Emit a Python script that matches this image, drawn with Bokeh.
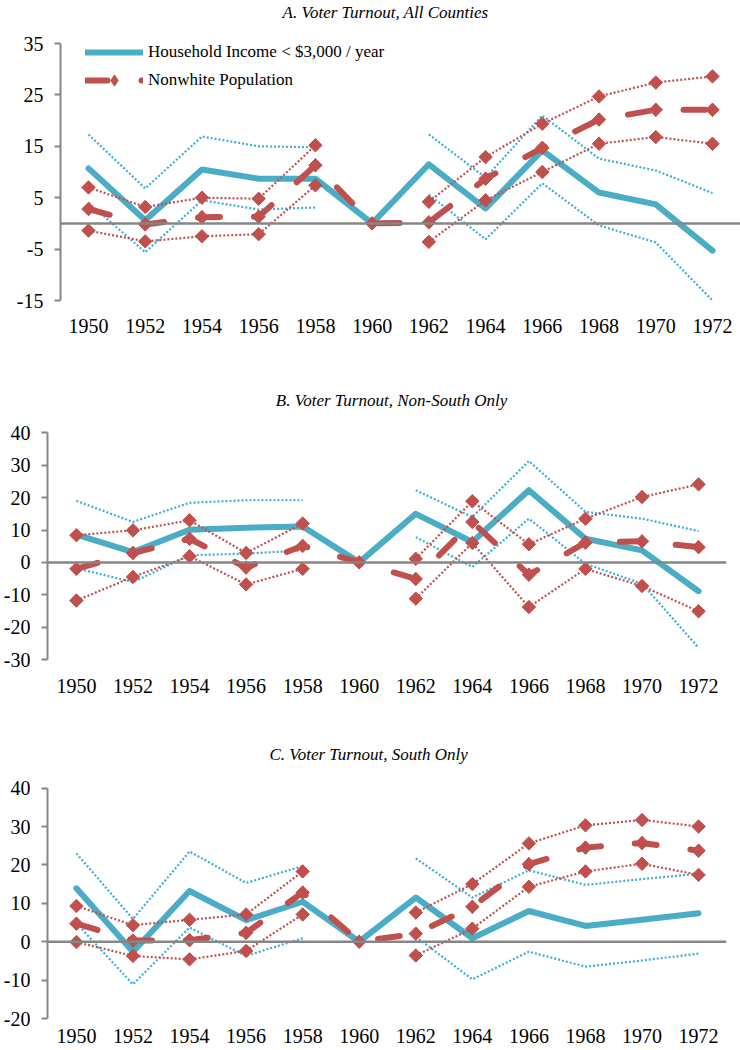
import numpy as np
from bokeh.plotting import figure
from bokeh.models import Range1d, FixedTicker, Span, Label, Legend, LegendItem, PrintfTickFormatter
from bokeh.embed import file_html
from bokeh.resources import INLINE

nan = float("nan")
years = [1950, 1952, 1954, 1956, 1958, 1960, 1962, 1964, 1966, 1968, 1970, 1972]

# ---- Panel A: all counties ----
a_inc    = [10.7, 0.6, 10.5, 8.7, 8.7, 0.0, 11.5, 2.9, 14.2, 6.0, 3.7, -5.3]
a_inc_hi = [17.3, 6.8, 16.9, 15.0, 14.8, nan, 17.3, 8.9, 21.0, 12.6, 10.3, 5.9]
a_inc_lo = [4.0, -5.6, 4.5, 2.7, 3.1, nan, 5.6, -3.1, 7.8, -0.4, -3.7, -15.0]
a_nw     = [2.8, -0.2, 1.2, 1.3, 11.3, 0.0, 0.2, 8.7, 14.7, 20.2, 22.1, 22.1]
a_nw_hi  = [7.0, 3.2, 5.0, 4.8, 15.2, nan, 4.2, 12.9, 19.4, 24.7, 27.4, 28.6]
a_nw_lo  = [-1.4, -3.5, -2.5, -2.1, 7.4, nan, -3.6, 4.5, 10.0, 15.5, 16.8, 15.5]
a_ticks  = [-15, -5, 5, 15, 25, 35]

# ---- Panel B: non-South ----
b_inc    = [8.6, 3.2, 10.1, 10.7, 11.1, 0.0, 15.0, 6.3, 22.3, 7.3, 3.7, -8.9]
b_inc_hi = [19.0, 12.5, 18.4, 19.2, 19.2, nan, 22.3, 14.0, 31.3, 15.6, 13.5, 9.7]
b_inc_lo = [-1.8, -6.1, 2.2, 2.7, 3.7, nan, 7.8, -1.4, 13.5, -0.4, -6.6, -26.4]
b_nw     = [-2.0, 2.9, 7.3, -1.6, 5.1, 0.0, -5.1, 12.5, -3.8, 6.1, 6.5, 4.7]
b_nw_hi  = [8.4, 9.9, 13.0, 2.9, 12.0, nan, 1.1, 18.9, 5.6, 13.5, 20.2, 24.1]
b_nw_lo  = [-11.8, -4.5, 1.9, -6.8, -2.0, nan, -11.2, 6.0, -13.8, -2.0, -7.3, -15.1]
b_ticks  = [-30, -20, -10, 0, 10, 20, 30, 40]

# ---- Panel C: South ----
c_inc    = [13.9, -2.6, 13.2, 5.6, 10.4, 0.0, 11.5, 0.9, 8.0, 4.1, 5.7, 7.4]
c_inc_hi = [23.0, 5.9, 23.5, 15.3, 19.7, nan, 21.7, 11.5, 18.6, 14.8, 16.3, 17.7]
c_inc_lo = [4.8, -11.1, 3.7, -3.7, 0.9, nan, 1.3, -9.8, -2.6, -6.5, -4.9, -3.1]
c_nw     = [4.7, 0.3, 0.4, 2.3, 12.8, 0.0, 2.1, 9.1, 20.2, 24.5, 25.7, 23.7]
c_nw_hi  = [9.3, 4.3, 5.7, 7.1, 18.3, nan, 7.6, 15.0, 25.6, 30.3, 31.7, 30.0]
c_nw_lo  = [-0.1, -3.7, -4.6, -2.4, 7.1, nan, -3.6, 3.4, 14.3, 18.3, 20.3, 17.4]
c_ticks  = [-20, -10, 0, 10, 20, 30, 40]

titles = ["A. Voter Turnout, All Counties",
          "B. Voter Turnout, Non-South Only",
          "C. Voter Turnout, South Only"]
legend_labels = ["Household Income < $3,000 / year", "Nonwhite Population"]

BLUE = "#4BACC6"
BLUE_DOT = "#3AAFD8"
RED = "#C0504D"
GRAY = "#868686"
FONT = "'Liberation Serif'"
W = 740


def make_panel(spec, inc, inc_hi, inc_lo, nw, nw_hi, nw_lo, ticks, title, legend=False):
    top_page = spec["top"]
    height = spec["height"]
    frame_h = spec["frame_h"]
    left = spec["left"]
    right = spec["right"]
    frame_w = W - left - right
    fl_page = left
    ppy = (spec["px1972"] - spec["px1950"]) / 22.0
    x0 = 1950 - (spec["px1950"] - fl_page) / ppy
    x1 = x0 + frame_w / ppy
    ppu = spec["ppu"]
    y0 = ticks[0]
    y1 = y0 + frame_h / ppu

    p = figure(width=W, height=height, output_backend="svg", toolbar_location=None,
               x_range=Range1d(x0, x1), y_range=Range1d(y0, y1),
               min_border_left=left, min_border_right=right,
               min_border_top=0, min_border_bottom=height - frame_h)
    p.outline_line_color = None
    p.grid.visible = False

    xa = p.xaxis[0]
    xa.ticker = FixedTicker(ticks=years)
    xa.axis_line_color = None
    xa.major_tick_line_color = None
    xa.minor_tick_line_color = None
    xa.major_tick_out = 0
    xa.major_tick_in = 0
    xa.major_label_standoff = spec["xstand"]
    xa.major_label_text_font = FONT
    xa.major_label_text_font_size = "20px"
    xa.major_label_text_color = "black"

    ya = p.yaxis[0]
    ya.ticker = FixedTicker(ticks=ticks)
    ya.bounds = (ticks[0], ticks[-1])
    ya.formatter = PrintfTickFormatter(format="%d")
    ya.axis_line_color = GRAY
    ya.axis_line_width = 2
    ya.major_tick_line_color = GRAY
    ya.major_tick_line_width = 2
    ya.major_tick_out = 6
    ya.major_tick_in = 0
    ya.minor_tick_line_color = None
    ya.major_label_standoff = spec["ystand"]
    ya.major_label_text_font = FONT
    ya.major_label_text_font_size = "20px"
    ya.major_label_text_color = "black"

    p.add_layout(Span(location=0, dimension="width", line_color=GRAY, line_width=2.5))

    # income series
    p.line(years, inc_hi, line_color=BLUE_DOT, line_width=2.2, line_dash="2 2")
    p.line(years, inc_lo, line_color=BLUE_DOT, line_width=2.2, line_dash="2 2")
    r_inc = p.line(years, inc, line_color=BLUE, line_width=6, line_join="round", line_cap="round")

    # nonwhite series
    r_leg = p.scatter(years, nw, marker="diamond", size=13, fill_color=RED, line_color=RED)
    for arr in (nw_hi, nw_lo):
        p.line(years, arr, line_color=RED, line_width=2.2, line_dash="2 2")
        p.scatter(years, arr, marker="square", angle=np.pi / 4, size=9.5,
                  fill_color=RED, line_color=RED)
    r_nw = p.line(years, nw, line_color=RED, line_width=6, line_dash="22 34",
                  line_cap="round", line_join="round")
    p.scatter(years, nw, marker="square", angle=np.pi / 4, size=9.5,
              fill_color=RED, line_color=RED)

    def px_to_x(px):
        return x0 + (px - fl_page) / ppy

    def py_to_y(py):
        return y1 - (py - top_page) / ppu

    p.add_layout(Label(x=px_to_x(spec["tx"]), y=py_to_y(spec["ty"]), text=title,
                       text_font=FONT, text_font_style="italic", text_font_size="17px",
                       text_align="center", text_baseline="middle", text_color="black"))

    if legend:
        leg = Legend(items=[LegendItem(label=legend_labels[0], renderers=[r_inc]),
                            LegendItem(label=legend_labels[1], renderers=[r_nw, r_leg])],
                     location=(25, frame_h - 38 - 56),
                     orientation="vertical", padding=0, margin=0, spacing=0,
                     glyph_width=58, glyph_height=28, label_height=28,
                     label_standoff=5, border_line_color=None,
                     background_fill_alpha=0.0,
                     label_text_font=FONT, label_text_font_size="17px",
                     label_text_color="black")
        p.add_layout(leg)
    return p


specA = dict(top=0, height=345, frame_h=300, left=60, right=0,
             px1950=88, px1972=712, ppu=257.0 / 50.0, xstand=18, ystand=11,
             tx=385, ty=12)
specB = dict(top=345, height=360, frame_h=314, left=45, right=14,
             px1950=74, px1972=698, ppu=226.6 / 70.0, xstand=19, ystand=11,
             tx=390, ty=400)
specC = dict(top=705, height=345, frame_h=313, left=45, right=14,
             px1950=74, px1972=698, ppu=230.4 / 60.0, xstand=10, ystand=11,
             tx=367, ty=754)

pA = make_panel(specA, a_inc, a_inc_hi, a_inc_lo, a_nw, a_nw_hi, a_nw_lo, a_ticks, titles[0], legend=True)
pB = make_panel(specB, b_inc, b_inc_hi, b_inc_lo, b_nw, b_nw_hi, b_nw_lo, b_ticks, titles[1])
pC = make_panel(specC, c_inc, c_inc_hi, c_inc_lo, c_nw, c_nw_hi, c_nw_lo, c_ticks, titles[2])

open("out.html", "w").write(file_html([pA, pB, pC], INLINE))
